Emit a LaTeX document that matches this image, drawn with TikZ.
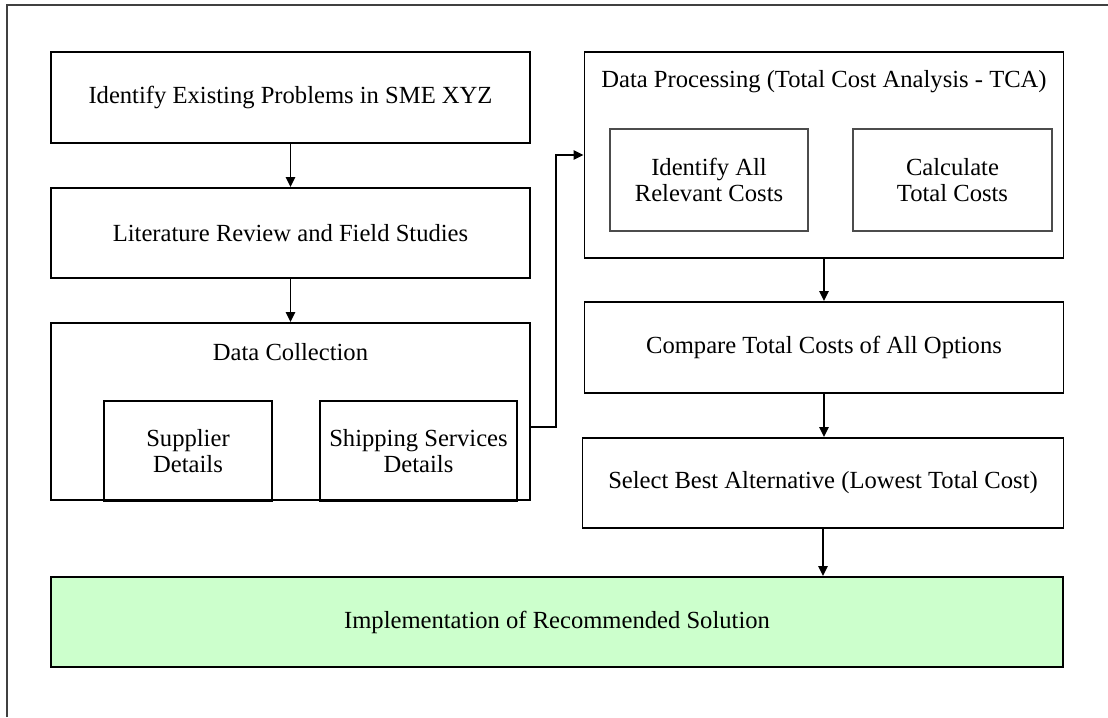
\documentclass[tikz,border=0pt]{standalone}
\usepackage{fontspec}
\setmainfont{Liberation Serif}
\usetikzlibrary{arrows.meta}
\definecolor{implgreen}{HTML}{CCFFCC}
\tikzset{
	stepbox/.style={draw, line width=1.3pt, align=center, inner sep=0pt},
	databox/.style={draw, line width=1pt, align=center, inner sep=0pt},
	subbox/.style={draw=black!70, line width=0.8pt, align=center, inner sep=0pt},
	flow/.style={line width=1.3pt, -{Triangle[length=7pt, width=6.5pt]}},
}
\begin{document}
\begin{tikzpicture}[x=0.025cm, y=-0.025cm, font=\fontsize{17.5}{19}\selectfont]
	\useasboundingbox (0,0) rectangle (1108,717);
	\draw[black!75, line width=0.8pt] (7,717)--(7,5)--(1108,5);
	% left column
	\node[stepbox, minimum width=11.975cm, minimum height=2.275cm] (prob) at (290.5,97.5) {Identify Existing Problems in SME XYZ};
	\node[stepbox, minimum width=11.975cm, minimum height=2.25cm] (lit) at (290.5,233) {Literature Review and Field Studies};
	\node[stepbox, minimum width=11.975cm, minimum height=4.425cm] (coll) at (290.5,411.5) {};
	\node (colltitle) at (290.5,352) {Data Collection};
	\node[databox, minimum width=4.2cm, minimum height=2.5cm] (supp) at (188,451) {Supplier\\Details};
	\node[databox, minimum width=4.925cm, minimum height=2.5cm] (ship) at (418.5,451) {Shipping Services\\Details};
	% right column
	\node[stepbox, minimum width=11.975cm, minimum height=5.15cm] (proc) at (824,155) {};
	\node (proctitle) at (824,82) {Data Processing (Total Cost Analysis - TCA)};
	\node[subbox, minimum width=4.95cm, minimum height=2.55cm] (ident) at (709,180) {Identify All\\Relevant Costs};
	\node[subbox, minimum width=4.975cm, minimum height=2.55cm] (calc) at (952.5,180) {Calculate\\Total Costs};
	\node[stepbox, minimum width=11.975cm, minimum height=2.275cm] (comp) at (824,347.5) {Compare Total Costs of All Options};
	\node[stepbox, minimum width=12.025cm, minimum height=2.25cm] (sel) at (823,483) {Select Best Alternative (Lowest Total Cost)};
	\node[stepbox, fill=implgreen, minimum width=25.3cm, minimum height=2.25cm] (impl) at (557,622) {Implementation of Recommended Solution};
	% arrows
	\draw[flow] (prob.south)--(lit.north);
	\draw[flow] (lit.south)--(coll.north);
	\coordinate (bend) at (556,427);
	\draw[flow] (coll.east |- bend)-|(bend |- proc.west)--(proc.west);
	\draw[flow] (proc.south)--(comp.north);
	\draw[flow] (comp.south)--(comp.south |- sel.north);
	\draw[flow] (sel.south)--(sel.south |- impl.north);
\end{tikzpicture}
\end{document}
